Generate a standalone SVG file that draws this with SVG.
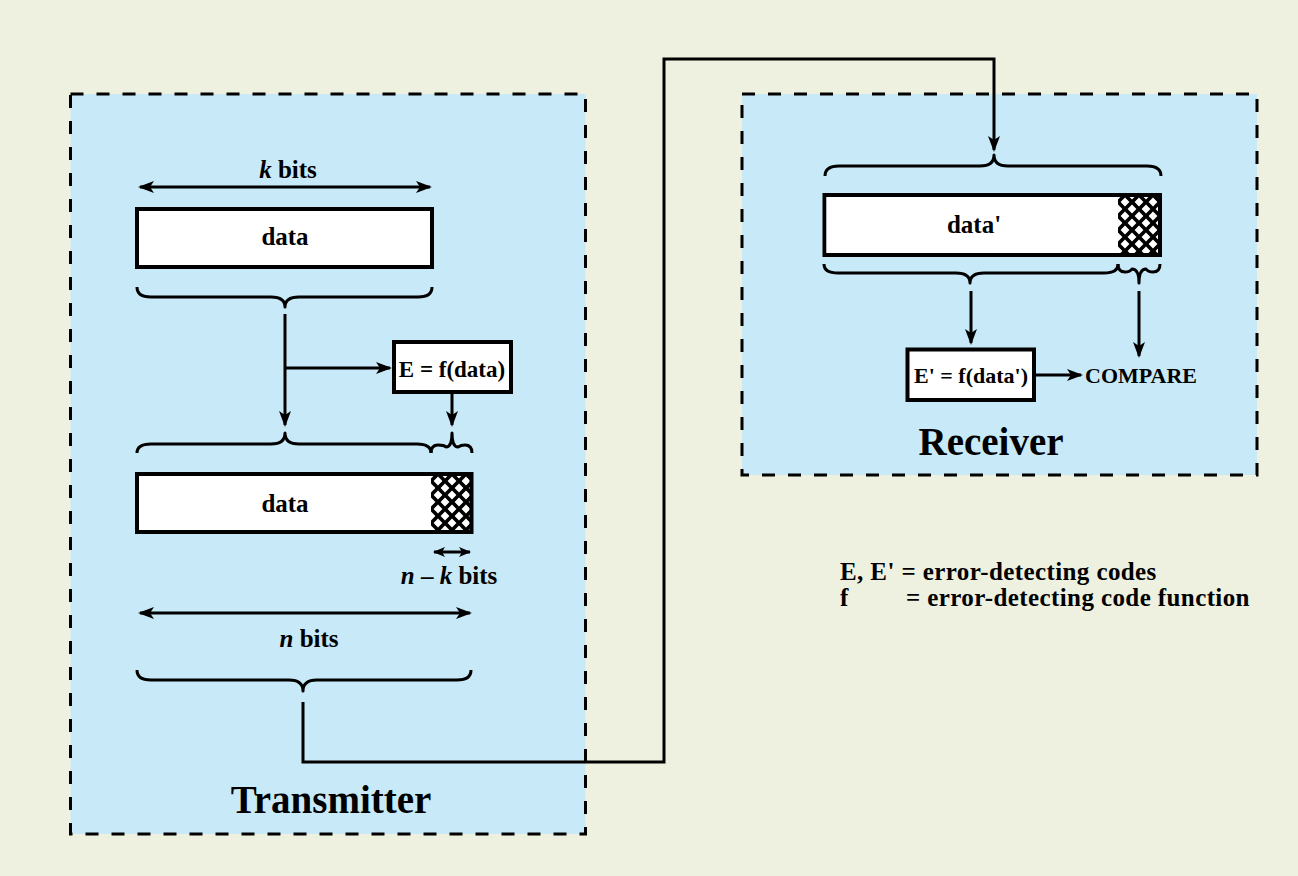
<svg xmlns="http://www.w3.org/2000/svg" width="1298" height="876" viewBox="0 0 1298 876">
<defs>
<style>
.t{font-family:"Liberation Serif","Times New Roman",serif;font-weight:bold;fill:#000}
.c{text-anchor:middle}
.i{font-style:italic}
.lg{font-size:25px;letter-spacing:0.4px}
.box{fill:#fff;stroke:#000;stroke-width:4}
.ln{fill:none;stroke:#000;stroke-width:3}
.br{fill:none;stroke:#000;stroke-width:3;stroke-linejoin:round}
.zone{fill:#c8e9f7;stroke:#000;stroke-width:3;stroke-dasharray:13 13}
</style>
<marker id="ah" viewBox="0 0 16 12" markerWidth="16" markerHeight="12" refX="14" refY="6" orient="auto-start-reverse" markerUnits="userSpaceOnUse"><path d="M0,0 L16,6 L0,12 L4,6 z" fill="#000"/></marker>
<marker id="ahs" viewBox="0 0 12 10" markerWidth="12" markerHeight="10" refX="11" refY="5" orient="auto-start-reverse" markerUnits="userSpaceOnUse"><path d="M0,0 L12,5 L0,10 L3,5 z" fill="#000"/></marker>
<pattern id="hatch" patternUnits="userSpaceOnUse" x="431" y="474" width="14" height="14">
<rect width="14" height="14" fill="#000"/>
<path d="M7,2.6 L11.4,7 L7,11.4 L2.6,7 z M0,-4.4 L4.4,0 L0,4.4 L-4.4,0 z M14,-4.4 L18.4,0 L14,4.4 L9.6,0 z M0,9.6 L4.4,14 L0,18.4 L-4.4,14 z M14,9.6 L18.4,14 L14,18.4 L9.6,14 z" fill="#fff"/>
</pattern>
<pattern id="hatch2" patternUnits="userSpaceOnUse" x="1118" y="195" width="14" height="14">
<rect width="14" height="14" fill="#000"/>
<path d="M7,2.6 L11.4,7 L7,11.4 L2.6,7 z M0,-4.4 L4.4,0 L0,4.4 L-4.4,0 z M14,-4.4 L18.4,0 L14,4.4 L9.6,0 z M0,9.6 L4.4,14 L0,18.4 L-4.4,14 z M14,9.6 L18.4,14 L14,18.4 L9.6,14 z" fill="#fff"/>
</pattern>
</defs>
<rect x="0" y="0" width="1298" height="876" fill="#eef1e0"/>

<g id="transmitter">
<rect class="zone" x="70.5" y="94" width="515" height="740"/>
<text class="t c" x="331" y="813" font-size="39">Transmitter</text>
</g>
<g id="receiver">
<rect class="zone" x="742" y="94" width="515" height="381"/>
<text class="t c" x="991" y="455" font-size="39">Receiver</text>
</g>

<g id="k-bits">
<text class="t c" x="288" y="178" font-size="25"><tspan class="i">k</tspan> bits</text>
</g>
<g id="data1">
<rect class="box" x="137" y="209" width="295" height="58"/>
<text class="t c" x="285" y="245" font-size="25">data</text>
</g>
<g id="efunc">
<rect class="box" x="394" y="342" width="117" height="50"/>
<text class="t c" x="452" y="377" font-size="23">E = f(data)</text>
</g>
<g id="data2">
<rect x="431" y="474" width="40.5" height="58" fill="url(#hatch)"/>
<rect class="box" x="137" y="474" width="334.5" height="58" style="fill:none"/>
<rect x="139" y="476" width="292" height="54" fill="#fff"/>
<text class="t c" x="285" y="512" font-size="25">data</text>
</g>
<g id="nk-bits">
<text class="t c" x="449" y="584" font-size="25"><tspan class="i">n</tspan> – <tspan class="i">k</tspan> bits</text>
</g>
<g id="n-bits">
<text class="t c" x="309" y="647" font-size="25"><tspan class="i">n</tspan> bits</text>
</g>

<g id="data-recv">
<rect x="1118" y="195" width="42" height="60" fill="url(#hatch2)"/>
<rect class="box" x="824.5" y="195" width="335.5" height="60" style="fill:none"/>
<rect x="826.5" y="197" width="291.5" height="56" fill="#fff"/>
<text class="t c" x="974" y="233" font-size="25">data'</text>
</g>
<g id="efunc2">
<rect class="box" x="907.5" y="349.5" width="126.5" height="50.5"/>
<text class="t c" x="971" y="383" font-size="22">E' = f(data')</text>
</g>
<g id="compare">
<text class="t" x="1085" y="383" font-size="22">COMPARE</text>
</g>

<g id="legend">
<text class="t lg" x="840" y="580">E, E' = error-detecting codes</text>
<text class="t lg" x="840" y="606">f</text>
<text class="t lg" x="906" y="606">= error-detecting code function</text>
</g>

<g id="braces">
<path class="br" d="M137,287 Q137,297 151,297 L271,297 Q285,297 285,307 Q285,297 299,297 L418,297 Q432,297 432,287"/>
<path class="br" d="M137,453 Q137,444 151,444 L271,444 Q285,444 285,433 Q285,444 299,444 L417,444 Q431,444 431,453"/>
<path class="br" d="M431,453 Q431,445 438,445 Q444,445 446,447 Q452,447 452,433 Q452,447 458,447 Q461,445 465,445 Q472,445 472,453"/>
<path class="br" d="M137,670 Q137,680 151,680 L289,680 Q303,680 303,691 Q303,680 317,680 L457,680 Q471,680 471,670"/>
<path class="br" d="M825,176 Q825,166 839,166 L980,166 Q994,166 994,155 Q994,166 1008,166 L1147,166 Q1161,166 1161,176"/>
<path class="br" d="M824,264 Q824,273 838,273 L956,273 Q970,273 970,283 Q970,273 984,273 L1104,273 Q1118,273 1118,264"/>
<path class="br" d="M1118,264 Q1118,272 1125,272 Q1130,272 1132,269 Q1139,269 1139,283 Q1139,269 1146,269 Q1148,272 1153,272 Q1160,272 1160,264"/>
</g>

<g id="connectors">
<line class="ln" x1="140" y1="187" x2="430" y2="187" marker-start="url(#ah)" marker-end="url(#ah)"/>
<line class="ln" x1="434" y1="552" x2="470" y2="552" marker-start="url(#ahs)" marker-end="url(#ahs)"/>
<line class="ln" x1="140" y1="613" x2="470" y2="613" marker-start="url(#ah)" marker-end="url(#ah)"/>
<path class="ln" d="M285,314 V425" marker-end="url(#ah)"/>
<path class="ln" d="M285,368 H390" marker-end="url(#ah)"/>
<path class="ln" d="M452,394 V425" marker-end="url(#ah)"/>
<path class="ln" d="M303,702 V762 H664 V59 H994 V150" marker-end="url(#ah)"/>
<path class="ln" d="M971,291 V343" marker-end="url(#ah)"/>
<path class="ln" d="M1139,291 V356" marker-end="url(#ah)"/>
<path class="ln" d="M1036,375 H1081" marker-end="url(#ah)"/>
</g>
</svg>
